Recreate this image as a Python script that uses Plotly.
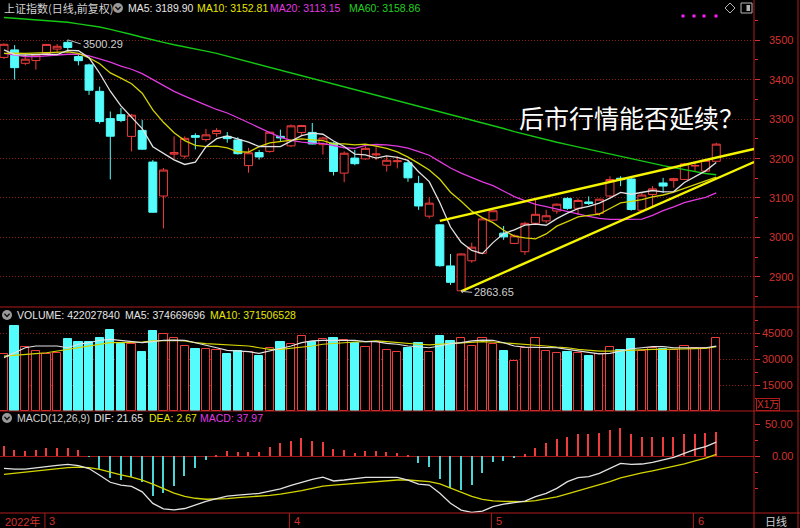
import plotly.graph_objects as go

# ---------------- data ----------------
DATES = [
    "2022-02-23", "2022-02-24", "2022-02-25", "2022-02-28",
    "2022-03-01", "2022-03-02", "2022-03-03", "2022-03-04", "2022-03-07", "2022-03-08",
    "2022-03-09", "2022-03-10", "2022-03-11", "2022-03-14", "2022-03-15", "2022-03-16",
    "2022-03-17", "2022-03-18", "2022-03-21", "2022-03-22", "2022-03-23", "2022-03-24",
    "2022-03-25", "2022-03-28", "2022-03-29", "2022-03-30", "2022-03-31",
    "2022-04-01", "2022-04-06", "2022-04-07", "2022-04-08", "2022-04-11", "2022-04-12",
    "2022-04-13", "2022-04-14", "2022-04-15", "2022-04-18", "2022-04-19", "2022-04-20",
    "2022-04-21", "2022-04-22", "2022-04-25", "2022-04-26", "2022-04-27", "2022-04-28",
    "2022-04-29",
    "2022-05-05", "2022-05-06", "2022-05-09", "2022-05-10", "2022-05-11", "2022-05-12",
    "2022-05-13", "2022-05-16", "2022-05-17", "2022-05-18", "2022-05-19", "2022-05-20",
    "2022-05-23", "2022-05-24", "2022-05-25", "2022-05-26", "2022-05-27", "2022-05-30",
    "2022-05-31",
    "2022-06-01", "2022-06-02", "2022-06-06",
]

OPEN = [3456, 3475, 3441, 3448, 3466, 3477, 3494, 3458, 3437, 3370,
        3301, 3311, 3256, 3271, 3191, 3105, 3211, 3206, 3258, 3248,
        3263, 3256, 3247, 3182, 3215, 3218, 3256, 3232, 3266, 3266,
        3235, 3239, 3163, 3201, 3199, 3209, 3183, 3192, 3189, 3137,
        3054, 3032, 2928, 2865, 2941, 2960, 3044, 3011, 2985, 2964,
        3036, 3042, 3067, 3099, 3074, 3090, 3061, 3105, 3150, 3148,
        3069, 3109, 3138, 3144, 3147, 3181, 3168, 3193]
HIGH = [3491, 3487, 3465, 3463, 3490, 3490, 3500.29, 3462, 3440, 3382,
        3319, 3328, 3313, 3298, 3196, 3176, 3256, 3256, 3264, 3275,
        3277, 3267, 3254, 3227, 3222, 3268, 3273, 3286, 3284, 3290,
        3255, 3241, 3218, 3222, 3231, 3230, 3206, 3205, 3196, 3156,
        3102, 3034, 2958, 2960, 2987, 3052, 3068, 3029, 3008, 3040,
        3095, 3070, 3086, 3102, 3099, 3104, 3098, 3155, 3155, 3150,
        3113, 3130, 3151, 3151, 3189, 3189, 3198, 3240]
LOW = [3452, 3400, 3436, 3425, 3462, 3466, 3470, 3436, 3361, 3288,
       3147, 3292, 3218, 3222, 3063, 3023, 3200, 3200, 3223, 3243,
       3255, 3240, 3210, 3164, 3197, 3215, 3244, 3229, 3258, 3236,
       3210, 3157, 3140, 3183, 3197, 3196, 3167, 3175, 3141, 3070,
       3048, 2926, 2880, 2863.65, 2936, 2958, 3042, 2994, 2983, 2956,
       3034, 3036, 3060, 3070, 3057, 3082, 3055, 3102, 3130, 3068,
       3068, 3079, 3113, 3126, 3146, 3168, 3165, 3192]
CLOSE = [3489.15, 3429.96, 3451.41, 3462.31, 3488.83, 3484.19, 3481.11, 3447.65, 3372.86, 3293.53,
         3256.39, 3296.09, 3309.75, 3223.53, 3063.97, 3170.71, 3215.04, 3251.07, 3253.69, 3259.86,
         3271.03, 3250.26, 3212.24, 3214.50, 3203.94, 3266.60, 3252.20, 3282.72, 3283.43, 3236.70,
         3251.85, 3167.13, 3213.33, 3186.82, 3225.64, 3211.24, 3195.52, 3194.03, 3151.05, 3079.81,
         3086.92, 2928.51, 2886.43, 2958.28, 2975.48, 3047.06, 3067.76, 3001.56, 3004.14, 3035.84,
         3058.70, 3054.99, 3084.28, 3073.75, 3093.70, 3085.98, 3096.96, 3146.86, 3146.57, 3070.93,
         3107.46, 3123.11, 3130.24, 3149.06, 3186.43, 3182.16, 3195.46, 3236.37]

MA5 = [3475, 3463, 3462, 3464, 3464.3, 3463.3, 3473.6, 3472.8, 3454.9, 3415.9,
       3370.3, 3333.3, 3305.7, 3275.9, 3229.9, 3212.8, 3196.6, 3184.9, 3190.9, 3230.1,
       3250.1, 3257.2, 3249.4, 3241.6, 3230.4, 3229.5, 3229.9, 3244.0, 3257.8, 3264.3,
       3261.4, 3244.4, 3230.5, 3211.2, 3209.0, 3200.8, 3206.5, 3202.7, 3195.5, 3166.3,
       3141.5, 3088.1, 3026.5, 2988.0, 2967.1, 2959.2, 2987.0, 3010.0, 3019.2, 3031.3,
       3033.6, 3031.0, 3047.6, 3061.5, 3073.1, 3078.5, 3086.9, 3099.5, 3114.0, 3109.5,
       3113.8, 3119.0, 3115.7, 3116.2, 3139.3, 3154.2, 3168.7, 3189.9]
MA10 = [3466, 3467, 3466, 3467, 3469, 3470, 3470, 3466, 3455, 3440.1,
        3416.8, 3403.4, 3389.3, 3365.4, 3322.9, 3291.6, 3265.0, 3245.3, 3233.4, 3230.0,
        3231.5, 3226.9, 3217.1, 3216.2, 3230.2, 3239.8, 3243.5, 3246.7, 3249.7, 3247.4,
        3245.4, 3237.1, 3237.2, 3234.5, 3236.6, 3231.1, 3225.4, 3216.6, 3203.3, 3187.6,
        3171.1, 3147.3, 3114.6, 3091.7, 3066.7, 3050.3, 3037.5, 3018.3, 3003.6, 2999.2,
        2996.4, 3009.0, 3028.8, 3040.4, 3052.2, 3056.1, 3059.0, 3073.5, 3087.8, 3091.3,
        3096.1, 3103.0, 3107.6, 3115.1, 3124.4, 3134.0, 3143.8, 3152.8]
MA20 = [3466, 3462, 3458, 3458, 3460, 3462, 3464, 3464, 3460, 3452,
        3444, 3434, 3426, 3415, 3400, 3384, 3370, 3358, 3346, 3335.1,
        3324.1, 3315.2, 3303.2, 3290.8, 3276.6, 3265.7, 3254.2, 3246.0, 3241.5, 3238.7,
        3238.5, 3232.0, 3227.2, 3225.4, 3233.4, 3235.5, 3234.5, 3231.6, 3226.5, 3217.5,
        3208.3, 3192.2, 3175.9, 3163.1, 3151.7, 3140.7, 3131.5, 3117.4, 3103.5, 3093.4,
        3083.8, 3078.2, 3071.7, 3066.0, 3059.5, 3053.2, 3048.3, 3045.9, 3045.7, 3045.2,
        3046.3, 3056.0, 3068.2, 3077.7, 3088.3, 3095.0, 3101.4, 3113.1]
MA60 = [3557, 3555, 3553, 3551, 3549, 3547, 3545, 3541, 3537, 3533,
        3527, 3521, 3514, 3507, 3500, 3494, 3488, 3483, 3477, 3472,
        3466, 3459, 3452, 3445, 3438, 3431, 3424, 3417, 3410, 3403,
        3396, 3389, 3382, 3375, 3368, 3361, 3354, 3347, 3340, 3333,
        3326, 3319, 3311, 3304, 3297, 3290, 3283, 3276, 3268, 3261,
        3254, 3247, 3241, 3235, 3229, 3223, 3217, 3211, 3205, 3199,
        3193, 3188, 3182, 3177, 3172, 3167, 3162, 3159]

VOLUME = [32700, 49000, 37100, 34600, 32700, 33400, 41300, 39800, 39800, 41900,
          46700, 38500, 38500, 34200, 46200, 44200, 42300, 37500, 35600, 36000,
          35000, 33100, 34600, 34200, 31700, 36500, 39800, 38500, 43300, 40000,
          41300, 42300, 41000, 39200, 37000, 40000, 35100, 34200, 36500, 39000,
          34200, 43300, 40400, 42300, 37700, 42300, 38500, 34600, 28700, 36500,
          42300, 34600, 33200, 34200, 33200, 31700, 32700, 37100, 35000, 41700,
          34600, 36500, 35600, 35000, 37700, 36500, 36500, 42203]
VOL_MA5 = [30800, 33600, 36500, 37500, 37500, 37500, 36500, 38500, 39400, 40800,
           41300, 40800, 40000, 39400, 40000, 40800, 40900, 40800, 39400, 38100,
           36500, 35000, 34600, 34200, 33200, 34600, 36200, 37500, 39400, 40400,
           40800, 40900, 40800, 40800, 40000, 40000, 39000, 38500, 37500, 37100,
           36500, 37500, 38900, 39400, 40400, 40900, 40800, 39400, 37500, 36900,
           36900, 36500, 36500, 35600, 34600, 33600, 33000, 33300, 34600, 35900,
           36500, 37100, 37100, 36500, 36500, 36500, 36500, 37467]
VOL_MA10 = [31700, 32300, 32700, 33100, 33600, 34600, 35600, 36500, 37500, 38500,
            39400, 39400, 39400, 39800, 40400, 40800, 40800, 40400, 39400, 38900,
            38500, 38100, 38100, 37500, 36500, 35600, 35600, 36200, 36500, 37500,
            38500, 39000, 39400, 39800, 40000, 40400, 40000, 39400, 38900, 38500,
            38100, 38500, 39000, 39400, 39800, 40000, 39800, 39400, 38900, 38500,
            38100, 37500, 36900, 36500, 35600, 35000, 34600, 34600, 34900, 35200,
            35600, 35600, 35600, 35700, 35900, 36000, 36100, 37151]

DIF = [-19.3, -20.5, -20.5, -19, -16.5, -14.5, -13, -15, -19.5, -30,
       -41, -45.5, -47.5, -56, -74, -82.5, -84, -82, -76, -71,
       -66.5, -62.5, -61, -60, -58.5, -55, -51.5, -46, -41, -36.5,
       -33, -39, -37.5, -35, -33.5, -33.3, -33.3, -33.5, -37.5, -43.8,
       -45.3, -58.3, -73.9, -84.4, -88, -86, -79.2, -75, -72.9, -70.3,
       -63.5, -58.3, -50.5, -40.1, -33.9, -32.3, -27.1, -19.3, -11.5, -13,
       -12.5, -9.9, -6.3, -2.1, 4.2, 10.4, 14.6, 21.65]
DEA = [-28.6, -27, -25, -23.5, -21.5, -19.5, -18, -17.5, -18, -21,
       -25.5, -29.5, -33, -37.5, -44, -51.5, -58, -63, -66, -67.5,
       -67.5, -66.5, -65, -64, -63, -61.5, -59.5, -57, -54, -50.5,
       -47, -45.5, -44, -42.5, -41, -39.5, -38.5, -37.5, -37.5, -38.8,
       -40, -43.6, -49.7, -56.7, -63, -67.6, -70, -71, -71.4, -71.2,
       -69.6, -67.3, -63.9, -59.1, -54.3, -49.7, -45.2, -40, -34.2, -29.9,
       -26.5, -23.2, -19.8, -16.3, -12.2, -7.7, -3.2, 2.67]
MACD_HIST = [15.6, 9.4, 7.8, 9.4, 12, 13, 13, 9.4, -1, -20.3,
             -34.9, -37.5, -32.3, -40.1, -62, -58.3, -46.3, -30.7, -18.2, -6.3,
             1.6, 7.8, 6.8, 6.8, 6.8, 14.6, 19.8, 23.4, 28.6, 23.4,
             22.4, 10.9, 9.4, 5.2, 8.3, 8.3, 5.7, 5.2, 0.5, -11.5,
             -16.7, -35.9, -50.5, -53.1, -45.3, -27.1, -9.9, -7.8, -3.6, 2.6,
             13, 19.8, 26.6, 29.2, 33.9, 33.9, 35.4, 40.6, 43.2, 33.9,
             30.2, 29.2, 29.2, 29.2, 34.4, 33.9, 35.4, 37.97]

PRICE_TICKS = [2900, 3000, 3100, 3200, 3300, 3400, 3500]
PRICE_MINOR = [2850, 2950, 3050, 3150, 3250, 3350, 3450, 3550]
VOL_TICKS = [15000, 30000, 45000]
VOL_MINOR = [7500, 22500, 37500, 52500]
MACD_TICKS = [0, 50]
MACD_MINOR = [25, -25, -50]

MONTH_LABELS = [("3", "2022-03-01"), ("4", "2022-04-01"), ("5", "2022-05-05"), ("6", "2022-06-01")]
YEAR_LABEL = "2022年"
HIGH_MARK = ("2022-03-03", 3500.29)
LOW_MARK = ("2022-04-27", 2863.65)
# hand-drawn trend lines: start date, start price, price at right plot edge
TREND_LINES = [("2022-04-25", 3042, 3224), ("2022-04-27", 2863.65, 3191)]

TITLE = "上证指数(日线,前复权)"
PRICE_LEGEND = [("MA5: 3189.90", 126, "#e6e6e6"), ("MA10: 3152.81", 195, "#e6e600"),
                ("MA20: 3113.15", 268, "#e03ae0"), ("MA60: 3158.86", 347, "#22d022")]
VOL_LEGEND = [("VOLUME: 422027840", 15, "#e6e6e6"), ("MA5: 374669696", 123, "#e6e6e6"),
              ("MA10: 371506528", 208, "#e6e600")]
MACD_LEGEND = [("MACD(12,26,9)", 15, "#d0d0d0"), ("DIF: 21.65", 92, "#e6e6e6"),
               ("DEA: 2.67", 147, "#e6e600"), ("MACD: 37.97", 198, "#e03ae0")]
QUESTION = "后市行情能否延续？"

# ---------------- styling ----------------
W, H = 800, 528
def px(v): return v / W
def py(v): return 1 - v / H

RED = "#f03c3c"
CYAN = "#54fcfc"
AX_RED = "#d2322d"
GRID = "#8a1c1c"
SEP = "#b01c1c"
WHITE_LINE = "#e2e2e2"
YELLOW_LINE = "#d4d400"
MAGENTA = "#e03ae0"
GREEN = "#14c814"
FONT = "Liberation Sans, Arial, Noto Sans CJK SC, sans-serif"
CJK = "Noto Sans CJK SC, sans-serif"
FS = 10.5

X_RANGE = [-0.376, 70.55]
PRICE_RANGE = [2824.0, 3601.3]
VOL_RANGE = [0, 60000]
MACD_RANGE = [-89.0, 70.3]
X_RIGHT = 754

n = len(DATES)
xs = list(range(n))
up = [c >= o for o, c in zip(OPEN, CLOSE)]

fig = go.Figure()

# price panel
fig.add_trace(go.Candlestick(
    x=xs, open=OPEN, high=HIGH, low=LOW, close=CLOSE,
    increasing=dict(line=dict(color=RED, width=1), fillcolor="#000000"),
    decreasing=dict(line=dict(color=CYAN, width=1), fillcolor=CYAN),
    whiskerwidth=0, xaxis="x", yaxis="y", hoverinfo="skip", showlegend=False))
for vals, col, w in [(MA60, GREEN, 1.4), (MA20, MAGENTA, 1.3), (MA10, YELLOW_LINE, 1.3), (MA5, WHITE_LINE, 1.3)]:
    fig.add_trace(go.Scatter(x=xs, y=vals, mode="lines", line=dict(color=col, width=w),
                             xaxis="x", yaxis="y", hoverinfo="skip", showlegend=False))

# volume panel
fig.add_trace(go.Bar(
    x=xs, y=VOLUME, width=0.78,
    marker=dict(color=["#000000" if u else CYAN for u in up],
                line=dict(color=[RED if u else CYAN for u in up], width=1)),
    xaxis="x2", yaxis="y2", hoverinfo="skip", showlegend=False))
for vals, col in [(VOL_MA10, YELLOW_LINE), (VOL_MA5, WHITE_LINE)]:
    fig.add_trace(go.Scatter(x=xs, y=vals, mode="lines", line=dict(color=col, width=1.2),
                             xaxis="x2", yaxis="y2", hoverinfo="skip", showlegend=False))

# MACD panel
fig.add_trace(go.Bar(
    x=xs, y=MACD_HIST, width=0.14,
    marker=dict(color=[RED if v >= 0 else "#4ad6d6" for v in MACD_HIST], line=dict(width=0)),
    xaxis="x3", yaxis="y3", hoverinfo="skip", showlegend=False))
for vals, col in [(DEA, YELLOW_LINE), (DIF, WHITE_LINE)]:
    fig.add_trace(go.Scatter(x=xs, y=vals, mode="lines", line=dict(color=col, width=1.3),
                             xaxis="x3", yaxis="y3", hoverinfo="skip", showlegend=False))

xdom = [0, px(X_RIGHT)]
def xaxis(anchor):
    return dict(domain=xdom, range=X_RANGE, anchor=anchor, showgrid=False, zeroline=False,
                showticklabels=False, ticks="", showline=False, fixedrange=True,
                rangeslider=dict(visible=False))

def yaxis(dom, rng, ticks, minor, grid, anchor, zero=False):
    return dict(domain=dom, range=rng, anchor=anchor, side="right", tickmode="array",
                tickvals=ticks, showticklabels=False, ticks="outside", ticklen=5,
                tickcolor=AX_RED, tickwidth=1, showgrid=grid, gridcolor=GRID, griddash="1px,2px",
                gridwidth=1, zeroline=zero, zerolinecolor="#a01818", zerolinewidth=1,
                showline=False, fixedrange=True,
                minor=dict(tickmode="array", tickvals=minor, ticks="outside", ticklen=3,
                           tickcolor=AX_RED, showgrid=False))

fig.update_layout(
    width=W, height=H, autosize=False,
    margin=dict(l=0, r=0, t=0, b=0, pad=0),
    paper_bgcolor="#000000", plot_bgcolor="#000000",
    showlegend=False, boxgap=0.25, boxgroupgap=0, bargap=0,
    xaxis=xaxis("y"), xaxis2=xaxis("y2"), xaxis3=xaxis("y3"),
    yaxis=yaxis([py(307), 1], PRICE_RANGE, PRICE_TICKS, PRICE_MINOR, True, "x"),
    yaxis2=yaxis([py(411), py(307)], VOL_RANGE, VOL_TICKS, VOL_MINOR, True, "x2"),
    yaxis3=yaxis([py(513), py(411)], MACD_RANGE, MACD_TICKS, MACD_MINOR, False, "x3", zero=True),
)

shapes = []
anns = []

# separators
for yy in [307, 411, 513]:
    shapes.append(dict(type="line", xref="paper", yref="paper", x0=0, x1=1, y0=py(yy), y1=py(yy),
                       line=dict(color=SEP, width=1)))
for xx in [X_RIGHT, 798]:
    shapes.append(dict(type="line", xref="paper", yref="paper", x0=px(xx), x1=px(xx), y0=0, y1=1,
                       line=dict(color=SEP, width=1)))

# trend lines
for d, p0, p1 in TREND_LINES:
    shapes.append(dict(type="line", xref="x", yref="y", x0=DATES.index(d), y0=p0,
                       x1=X_RANGE[1], y1=p1, line=dict(color="#f5f500", width=2.4)))

# right axis labels
for v in PRICE_TICKS:
    anns.append(dict(xref="paper", yref="y", x=px(795), y=v, text=str(v), showarrow=False,
                     xanchor="right", yanchor="middle", font=dict(family=FONT, size=11, color=AX_RED)))
for v in VOL_TICKS:
    anns.append(dict(xref="paper", yref="y2", x=px(795), y=v, text=str(v), showarrow=False,
                     xanchor="right", yanchor="middle", font=dict(family=FONT, size=11, color=AX_RED)))
for v in MACD_TICKS:
    anns.append(dict(xref="paper", yref="y3", x=px(795), y=v, text=f"{v:.2f}", showarrow=False,
                     xanchor="right", yanchor="middle", font=dict(family=FONT, size=11, color=AX_RED)))
anns.append(dict(xref="paper", yref="paper", x=px(768), y=py(404), text="X1万", showarrow=False,
                 xanchor="center", yanchor="middle", bordercolor=SEP, borderwidth=1, borderpad=0,
                 font=dict(family=FONT, size=10, color=AX_RED)))
anns.append(dict(xref="paper", yref="paper", x=px(776), y=py(521), text="日线", showarrow=False,
                 xanchor="center", yanchor="middle", font=dict(family=CJK, size=11, color="#cfcfcf")))

# date row
anns.append(dict(xref="paper", yref="paper", x=px(3), y=py(521), text=YEAR_LABEL, showarrow=False,
                 xanchor="left", yanchor="middle", font=dict(family=FONT, size=11, color=AX_RED)))
for lab, d in MONTH_LABELS:
    i = DATES.index(d)
    shapes.append(dict(type="line", xref="x3", yref="paper", x0=i - 0.15, x1=i - 0.15,
                       y0=0, y1=py(513), line=dict(color=SEP, width=1)))
    anns.append(dict(xref="x3", yref="paper", x=i + 0.05, y=py(521), text=lab, showarrow=False,
                     xanchor="left", yanchor="middle", font=dict(family=FONT, size=11, color=AX_RED)))

# header legends
def header(items, yy):
    for txt, xx, col in items:
        anns.append(dict(xref="paper", yref="paper", x=px(xx), y=py(yy), text=txt, showarrow=False,
                         xanchor="left", yanchor="middle", font=dict(family=FONT, size=FS, color=col)))

anns.append(dict(xref="paper", yref="paper", x=px(2), y=py(8), text=TITLE, showarrow=False,
                 xanchor="left", yanchor="middle", font=dict(family=CJK, size=11, color="#d2d2d2")))
header(PRICE_LEGEND, 8)
header(VOL_LEGEND, 315)
header(MACD_LEGEND, 418)

def circle_icon(cx, cy):
    shapes.append(dict(type="circle", xref="paper", yref="paper", x0=px(cx - 5), x1=px(cx + 5),
                       y0=py(cy + 5), y1=py(cy - 5), fillcolor="#9a9a9a", line=dict(width=0)))
    shapes.append(dict(type="path", xref="paper", yref="paper",
                       path=f"M {px(cx-2.6)},{py(cy-1.2)} L {px(cx)},{py(cy+1.4)} L {px(cx+2.6)},{py(cy-1.2)}",
                       line=dict(color="#111111", width=1.4)))

circle_icon(118, 8)
circle_icon(7, 315)
circle_icon(7, 418)

# top-right decorations
for dx in [683, 694, 704, 716]:
    shapes.append(dict(type="rect", xref="paper", yref="paper", x0=px(dx - 1.5), x1=px(dx + 1.5),
                       y0=py(17.5), y1=py(14.5), fillcolor="#ff20ff", line=dict(width=0)))
shapes.append(dict(type="path", xref="paper", yref="paper",
                   path=f"M {px(730)},{py(3)} L {px(735)},{py(8)} L {px(730)},{py(13)} L {px(725)},{py(8)} Z",
                   line=dict(color="#b4b4b4", width=1)))
shapes.append(dict(type="rect", xref="paper", yref="paper", x0=px(741), x1=px(752), y0=py(13), y1=py(3),
                   line=dict(color="#b4b4b4", width=1)))
shapes.append(dict(type="rect", xref="paper", yref="paper", x0=px(746.5), x1=px(750), y0=py(11), y1=py(5),
                   fillcolor="#b4b4b4", line=dict(width=0)))

# extreme price marks
hd, hv = HIGH_MARK
anns.append(dict(xref="x", yref="y", x=DATES.index(hd), y=hv, text=f"{hv:.2f}", showarrow=True,
                 arrowhead=0, arrowwidth=1, arrowcolor="#bdbdbd", ax=13, ay=4, xanchor="left",
                 yanchor="middle", font=dict(family=FONT, size=11, color="#cfcfcf")))
ld, lv = LOW_MARK
anns.append(dict(xref="x", yref="y", x=DATES.index(ld), y=lv, text=f"{lv:.2f}", showarrow=True,
                 arrowhead=1, arrowsize=0.7, arrowwidth=1, arrowcolor="#bdbdbd", ax=11, ay=1,
                 xanchor="left", yanchor="middle", font=dict(family=FONT, size=11, color="#cfcfcf")))

# big question text
anns.append(dict(xref="paper", yref="paper", x=px(517), y=py(117), text=QUESTION, showarrow=False,
                 xanchor="left", yanchor="middle", font=dict(family=CJK, size=25, color="#ffffff")))

fig.update_layout(shapes=shapes, annotations=anns)
fig.write_html("out.html", config={"displayModeBar": False},
               post_script="document.body.style.margin='0';document.body.style.overflow='hidden';")
